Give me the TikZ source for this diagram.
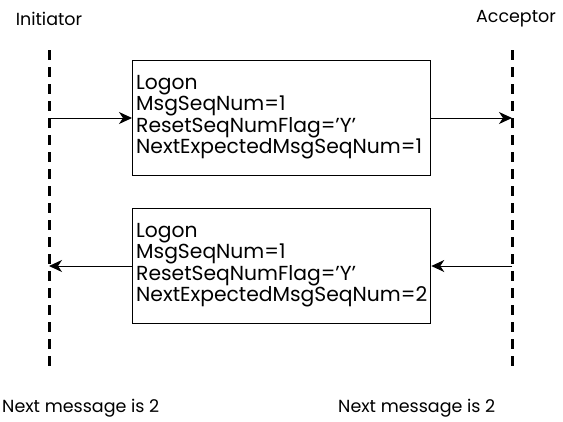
\documentclass[tikz,border=0pt]{standalone}
\usepackage{fontspec}
\setmainfont{Poppins}
\usetikzlibrary{arrows.meta}
\begin{document}
\begin{tikzpicture}[x=1pt,y=-1pt,
  lifeline/.style={line width=3pt,dash pattern=on 10pt off 7pt},
  msgbox/.style={draw,line width=1.3pt,minimum width=298pt,minimum height=115pt,anchor=north west,inner sep=0pt},
  msgtext/.style={anchor=west,align=left,font=\fontsize{20.3}{21.3}\selectfont,inner sep=0pt},
  lbl/.style={font=\fontsize{17.5}{19}\selectfont,inner sep=0pt},
  msg/.style={line width=1pt,-{Stealth[length=13pt,width=12pt,inset=4pt]}}]
\useasboundingbox (0,0) rectangle (563,421);
% lifelines
\coordinate (lt) at (49,50);
\coordinate (lb) at (49,366);
\coordinate (rt) at (512,50);
\coordinate (rb) at (512,366);
\draw[lifeline] (lt) -- (lb);
\draw[lifeline] (rt) -- (rb);
% labels
\node[lbl] (init) at (49,19) {Initiator};
\node[lbl] (acc) at (516,19) {Acceptor};
\node[lbl,anchor=west] (nl) at (2,408) {Next message is 2};
\node[lbl,anchor=west] (nr) at (338,408) {Next message is 2};
% boxes
\node[msgbox] (b1) at (132,60) {};
\node[msgtext] (t1) at ([xshift=4pt,yshift=1pt]b1.west) {Logon\\MsgSeqNum=1\\ResetSeqNumFlag='Y'\\NextExpectedMsgSeqNum=1};
\node[msgbox] (b2) at (132,208) {};
\node[msgtext] (t2) at ([xshift=4pt,yshift=1pt]b2.west) {Logon\\MsgSeqNum=1\\ResetSeqNumFlag='Y'\\NextExpectedMsgSeqNum=2};
% arrows
\coordinate (l1) at (49,118);
\coordinate (r1) at (512,118);
\coordinate (l2) at (49,266);
\coordinate (r2) at (512,266);
\draw[msg] (l1) -- (l1 -| b1.west);
\draw[msg] (r1 -| b1.east) -- (r1);
\draw[msg] (r2) -- (r2 -| b2.east);
\draw[msg] (l2 -| b2.west) -- (l2);
\end{tikzpicture}
\end{document}
